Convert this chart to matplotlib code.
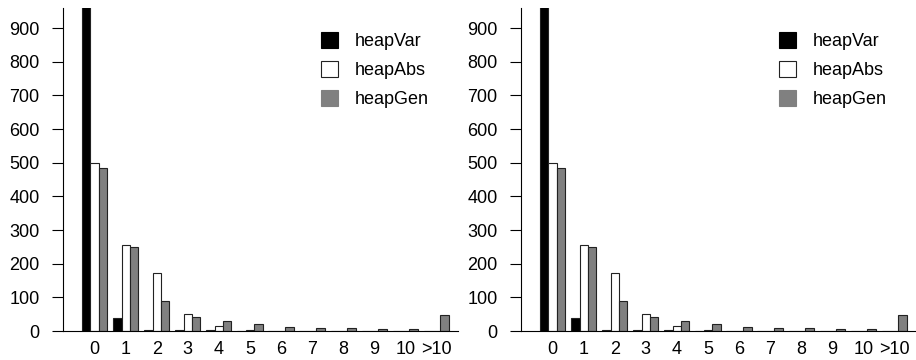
import matplotlib
matplotlib.use("Agg")
import matplotlib.pyplot as plt
import numpy as np
from matplotlib.patches import Patch

plt.rcParams['font.family'] = ['Liberation Sans', 'DejaVu Sans']
plt.rcParams['font.size'] = 13

categories = ["0", "1", "2", "3", "4", "5", "6", "7", "8", "9", "10", ">10"]
heapVar = [980, 40, 2, 2, 2, 1, 1, 1, 1, 1, 1, 1]
heapAbs = [500, 257, 173, 50, 14, 4, 1, 1, 1, 1, 1, 1]
heapGen = [483, 249, 88, 43, 29, 20, 12, 9, 8, 6, 6, 48]
series_names = ["heapVar", "heapAbs", "heapGen"]
colors = ["#000000", "#ffffff", "#808080"]

fig = plt.figure(figsize=(9.16, 3.6), dpi=100)
W, H = 916, 360
panels = [(63, 458), (521, 916)]
top, bottom = 8, 331

x = np.arange(len(categories))
bw = 0.27
for (l, r) in panels:
    ax = fig.add_axes([l / W, 1 - bottom / H, (r - l) / W, (bottom - top) / H])
    for i, (vals, c) in enumerate(zip([heapVar, heapAbs, heapGen], colors)):
        ax.bar(x + (i - 1) * bw, vals, width=bw, color=c, edgecolor="#222222",
               linewidth=0.8, zorder=2)
    ax.set_ylim(0, 960)
    ax.set_xlim(-1.02, 11.7)
    ax.set_yticks(range(0, 901, 100))
    ax.set_xticks(x)
    ax.set_xticklabels(categories)
    ax.tick_params(axis='x', length=0, pad=7.5)
    ax.tick_params(axis='y', length=8, width=0.8, pad=9, direction='out')
    for s in ['top', 'right']:
        ax.spines[s].set_visible(False)
    ax.spines['left'].set_linewidth(0.8)
    ax.spines['bottom'].set_linewidth(0.8)
    handles = [Patch(facecolor=c, edgecolor="#222222" if c == "#ffffff" else c, linewidth=0.8)
               for c in colors]
    ax.legend(handles, series_names, loc='upper left', bbox_to_anchor=(0.612, 0.975),
              frameon=False, handlelength=0.95, handleheight=0.95, labelspacing=0.6,
              handletextpad=0.9, fontsize=13)

fig.savefig("out.png", dpi=100)
